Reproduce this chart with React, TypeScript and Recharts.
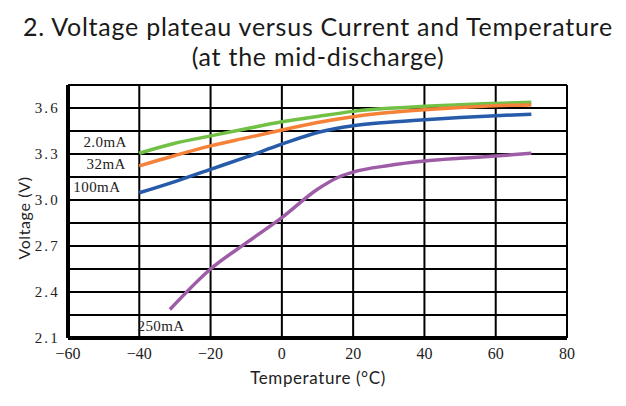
import React from 'react';
import { LineChart, Line, XAxis, YAxis, CartesianGrid, ReferenceDot } from 'recharts';

// temperature (°C) / mid-discharge voltage (V)
const T_2MA = [-40, -30, -20, -10, 0, 10, 20, 30, 40, 50, 60, 70];
const V_2MA = [3.305, 3.37, 3.418, 3.465, 3.51, 3.545, 3.578, 3.598, 3.611, 3.622, 3.63, 3.637];

const T_32MA = [-40, -30, -20, -10, 0, 10, 20, 30, 40, 50, 60, 70];
const V_32MA = [3.222, 3.29, 3.353, 3.405, 3.456, 3.505, 3.543, 3.57, 3.589, 3.604, 3.615, 3.62];

const T_100MA = [-40, -30, -20, -10, 0, 10, 20, 30, 40, 50, 60, 70];
const V_100MA = [3.047, 3.12, 3.2, 3.28, 3.364, 3.44, 3.484, 3.507, 3.524, 3.538, 3.55, 3.56];

const T_250MA = [-31.4, -20, -10, 0, 10, 16, 20, 30, 40, 50, 60, 70];
const V_250MA = [2.286, 2.55, 2.72, 2.885, 3.07, 3.15, 3.182, 3.225, 3.254, 3.272, 3.287, 3.305];

const X_TICKS = [-60, -40, -20, 0, 20, 40, 60, 80];
const Y_TICKS = [2.1, 2.25, 2.4, 2.55, 2.7, 2.85, 3.0, 3.15, 3.3, 3.45, 3.6, 3.75];
const Y_LABELS = [2.1, 2.4, 2.7, 3.0, 3.3, 3.6];

const SERIES = [
  { name: '2.0mA', t: T_2MA, v: V_2MA, color: '#72c045', at: [-49.6, 3.379] },
  { name: '32mA', t: T_32MA, v: V_32MA, color: '#f6823a', at: [-49.3, 3.235] },
  { name: '100mA', t: T_100MA, v: V_100MA, color: '#275baa', at: [-51.9, 3.084] },
  { name: '250mA', t: T_250MA, v: V_250MA, color: '#9e5ca7', at: [-33.9, 2.179] },
];

const toRows = (t: number[], v: number[]) => t.map((x, i) => ({ t: x, v: v[i] }));

const serif = '"Liberation Serif", "DejaVu Serif", serif';
const sans = '"Lato", "Open Sans", sans-serif';

export default function App() {
  return (
    <div style={{ position: 'absolute', left: 0, top: 0, width: 626, height: 406, background: '#fff' }}>
      <div
        style={{
          position: 'absolute', left: 0, top: 11, width: 636, textAlign: 'center',
          fontFamily: sans, fontSize: 25, lineHeight: '30px', letterSpacing: 0.75, color: '#1a1a1a',
        }}
      >
        2. Voltage plateau versus Current and Temperature
        <br />
        (at the mid-discharge)
      </div>
      <div
        style={{
          position: 'absolute', left: 23, top: 218, transform: 'translate(-50%, -50%) rotate(-90deg)',
          fontFamily: sans, fontSize: 16, letterSpacing: 0.6, color: '#222', whiteSpace: 'nowrap',
        }}
      >
        Voltage (V)
      </div>
      <div
        style={{
          position: 'absolute', left: 318, top: 377, transform: 'translate(-50%, -50%)',
          fontFamily: sans, fontSize: 17, letterSpacing: 0.6, color: '#222', whiteSpace: 'nowrap',
        }}
      >
        Temperature (°C)
      </div>
      <LineChart width={626} height={406} margin={{ top: 85, right: 59, bottom: 38, left: 28 }}>
        <CartesianGrid xAxisId="b" yAxisId="l" stroke="#000" strokeWidth={2} />
        <XAxis
          xAxisId="b"
          type="number"
          dataKey="t"
          domain={[-60, 80]}
          ticks={X_TICKS}
          allowDataOverflow
          height={30}
          axisLine={{ stroke: '#000', strokeWidth: 4 }}
          tickLine={false}
          tick={{ fontFamily: serif, fontSize: 16, fill: '#222' }}
          tickFormatter={(v: number) => (v < 0 ? `\u2212${Math.abs(v)}` : `${v}`)}
          dy={2}
        />
        <XAxis xAxisId="top" orientation="top" type="number" domain={[-60, 80]} ticks={X_TICKS} height={0}
          axisLine={{ stroke: '#000', strokeWidth: 3 }} tickLine={false} tick={false} />
        <YAxis
          yAxisId="l"
          type="number"
          domain={[2.1, 3.75]}
          ticks={Y_TICKS}
          allowDataOverflow
          width={40}
          axisLine={{ stroke: '#000', strokeWidth: 4 }}
          tickLine={false}
          tick={{ fontFamily: serif, fontSize: 15, fill: '#222', letterSpacing: 2.2 }}
          tickFormatter={(v: number) => (Y_LABELS.some((l) => Math.abs(l - v) < 1e-6) ? v.toFixed(1) : '')}
        />
        <YAxis yAxisId="r" orientation="right" type="number" domain={[2.1, 3.75]} ticks={Y_TICKS} width={0}
          axisLine={{ stroke: '#000', strokeWidth: 3 }} tickLine={false} tick={false} />
        {SERIES.map((s) => (
          <Line
            key={s.name}
            xAxisId="b"
            yAxisId="l"
            data={toRows(s.t, s.v)}
            dataKey="v"
            type="monotone"
            stroke={s.color}
            strokeWidth={3.5}
            dot={false}
            isAnimationActive={false}
          />
        ))}
        {SERIES.map((s) => (
          <ReferenceDot
            key={`lbl-${s.name}`}
            xAxisId="b"
            yAxisId="l"
            x={s.at[0]}
            y={s.at[1]}
            r={0}
            stroke="none"
            label={{ value: s.name, position: 'center', fontFamily: serif, fontSize: 15, letterSpacing: 0.4, fill: '#222' }}
          />
        ))}
      </LineChart>
    </div>
  );
}
